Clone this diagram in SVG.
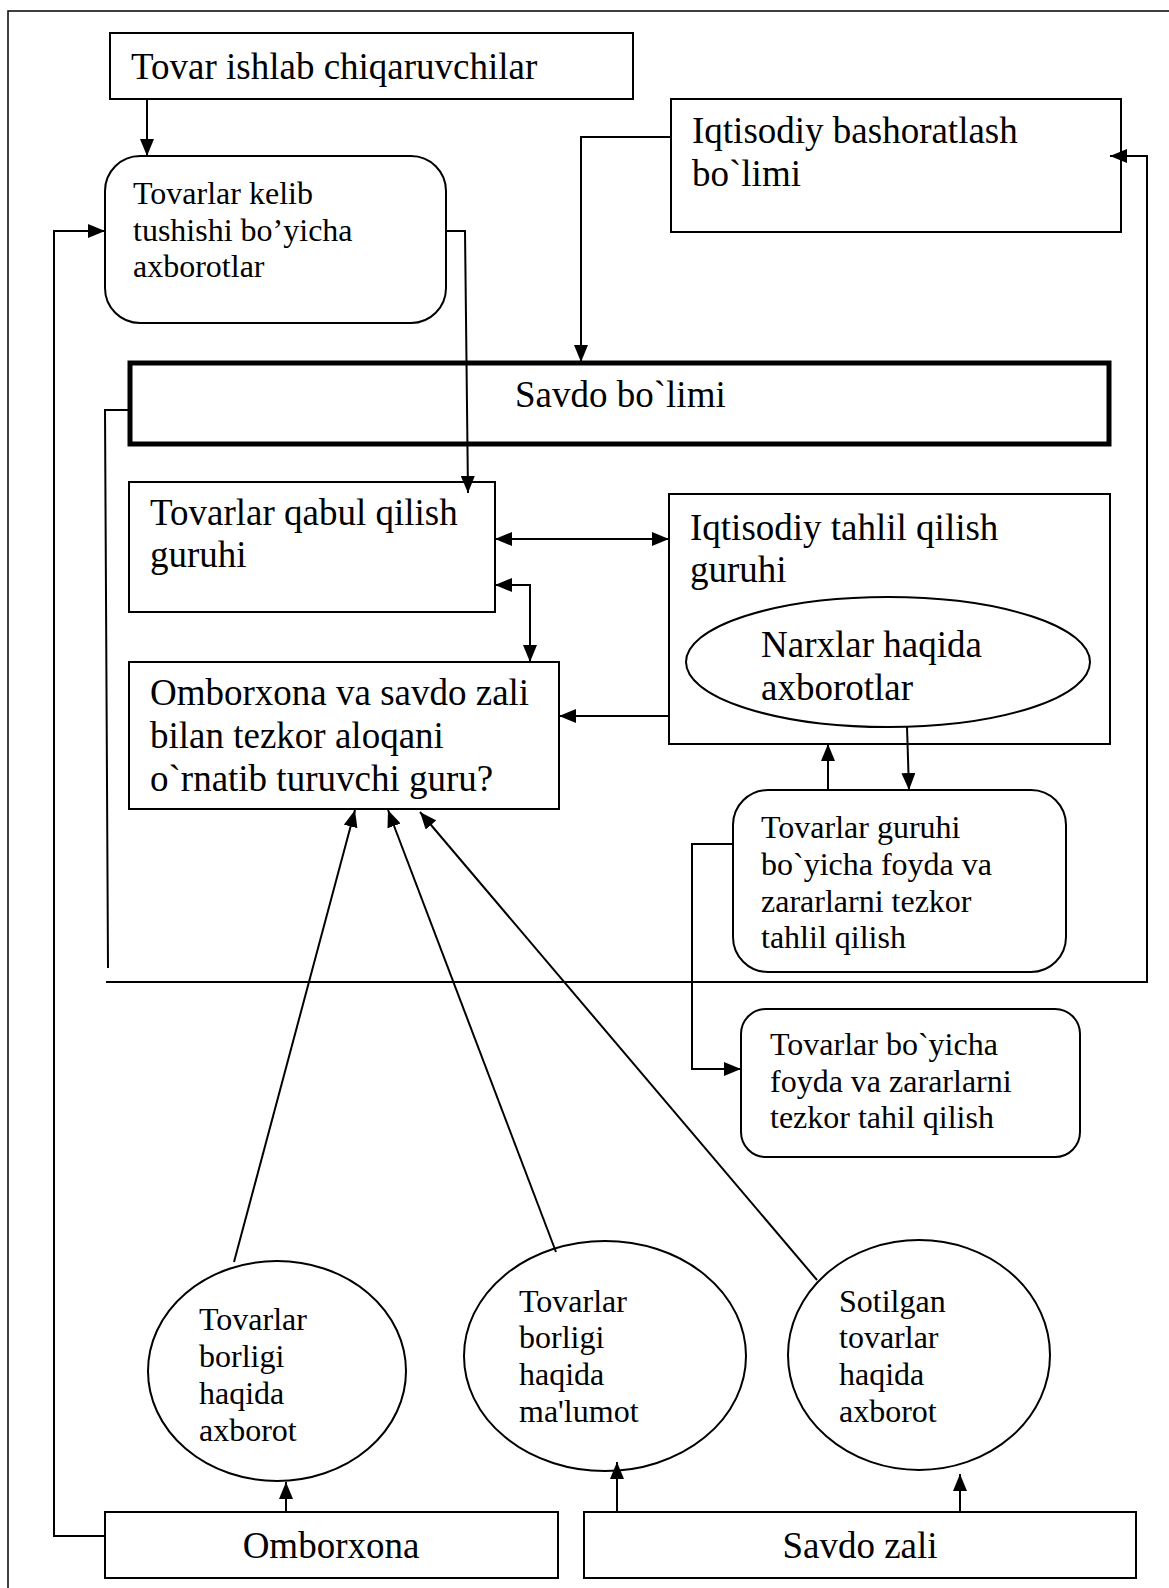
<svg xmlns="http://www.w3.org/2000/svg" width="1169" height="1588" viewBox="0 0 1169 1588">
<style>
text{font-family:"Liberation Serif","Times New Roman",serif;fill:#000}
.big{font-size:37px}
.sm{font-size:32px}
.box{fill:#fff;stroke:#000;stroke-width:2}
.thick{fill:#fff;stroke:#000;stroke-width:5}
.c{fill:none;stroke:#000;stroke-width:2}
.ca{fill:none;stroke:#000;stroke-width:2;marker-end:url(#ah)}
.cb{fill:none;stroke:#000;stroke-width:2;marker-end:url(#ah);marker-start:url(#ah)}
</style>
<defs>
<marker id="ah" viewBox="0 0 17 14" refX="17" refY="7" markerWidth="17" markerHeight="14" markerUnits="userSpaceOnUse" orient="auto-start-reverse">
<path d="M0,0 L17,7 L0,14 z" fill="#000"/>
</marker>
</defs>
<rect width="1169" height="1588" fill="#fff"/>
<g id="page-border">
<path d="M8,1588 V11 H1169" fill="none" stroke="#000" stroke-width="1.5"/>
</g>
<g id="n-tovar-ishlab">
<rect class="box" x="110" y="33" width="523" height="66"/>
<text class="big" x="131" y="79">Tovar ishlab chiqaruvchilar</text>
</g>
<g id="n-kelib">
<rect class="box" x="105" y="156" width="341" height="167" rx="35" ry="35"/>
<text class="sm" x="133" y="204">Tovarlar kelib</text>
<text class="sm" x="133" y="241">tushishi bo’yicha</text>
<text class="sm" x="133" y="277">axborotlar</text>
</g>
<g id="n-bashorat">
<rect class="box" x="671" y="99" width="450" height="133"/>
<text class="big" x="692" y="143">Iqtisodiy bashoratlash</text>
<text class="big" x="692" y="186">bo`limi</text>
</g>
<g id="n-savdo-bolimi">
<rect class="thick" x="130" y="363" width="979" height="81"/>
<text class="big" x="515" y="407">Savdo bo`limi</text>
</g>
<g id="n-qabul">
<rect class="box" x="129" y="482" width="366" height="130"/>
<text class="big" x="150" y="525">Tovarlar qabul qilish</text>
<text class="big" x="150" y="567">guruhi</text>
</g>
<g id="n-tezkor">
<rect class="box" x="129" y="662" width="430" height="147"/>
<text class="big" x="150" y="705">Omborxona va savdo zali</text>
<text class="big" x="150" y="748">bilan tezkor aloqani</text>
<text class="big" x="150" y="791">o`rnatib turuvchi guru?</text>
</g>
<g id="n-tahlil">
<rect class="box" x="669" y="494" width="441" height="250"/>
<text class="big" x="690" y="540">Iqtisodiy tahlil qilish</text>
<text class="big" x="690" y="582">guruhi</text>
</g>
<g id="n-narxlar">
<ellipse class="box" cx="888" cy="662" rx="202" ry="65"/>
<text class="big" x="761" y="657">Narxlar haqida</text>
<text class="big" x="761" y="700">axborotlar</text>
</g>
<g id="n-guruh-foyda">
<rect class="box" x="733" y="790" width="333" height="182" rx="35" ry="35"/>
<text class="sm" x="761" y="838">Tovarlar guruhi</text>
<text class="sm" x="761" y="875">bo`yicha foyda va</text>
<text class="sm" x="761" y="912">zararlarni tezkor</text>
<text class="sm" x="761" y="948">tahlil qilish</text>
</g>
<g id="n-tovar-foyda">
<rect class="box" x="741" y="1009" width="339" height="148" rx="25" ry="25"/>
<text class="sm" x="770" y="1055">Tovarlar bo`yicha</text>
<text class="sm" x="770" y="1092">foyda va zararlarni</text>
<text class="sm" x="770" y="1128">tezkor tahil qilish</text>
</g>
<g id="n-e1">
<ellipse class="box" cx="277" cy="1371" rx="129" ry="110"/>
<text class="sm" x="199" y="1330">Tovarlar</text>
<text class="sm" x="199" y="1367">borligi</text>
<text class="sm" x="199" y="1404">haqida</text>
<text class="sm" x="199" y="1441">axborot</text>
</g>
<g id="n-e2">
<ellipse class="box" cx="605" cy="1356" rx="141" ry="115"/>
<text class="sm" x="519" y="1312">Tovarlar</text>
<text class="sm" x="519" y="1348">borligi</text>
<text class="sm" x="519" y="1385">haqida</text>
<text class="sm" x="519" y="1422">ma'lumot</text>
</g>
<g id="n-e3">
<ellipse class="box" cx="919" cy="1355" rx="131" ry="115"/>
<text class="sm" x="839" y="1312">Sotilgan</text>
<text class="sm" x="839" y="1348">tovarlar</text>
<text class="sm" x="839" y="1385">haqida</text>
<text class="sm" x="839" y="1422">axborot</text>
</g>
<g id="n-omborxona">
<rect class="box" x="105" y="1512" width="453" height="66"/>
<text class="big" x="331" y="1558" text-anchor="middle">Omborxona</text>
</g>
<g id="n-savdo-zali">
<rect class="box" x="584" y="1512" width="552" height="66"/>
<text class="big" x="860" y="1558" text-anchor="middle">Savdo zali</text>
</g>
<g id="connectors">
<path class="ca" d="M147,99 V156"/>
<path class="ca" d="M105,1536 H54 V231 H105"/>
<path class="ca" d="M446,231 H465 L468,493"/>
<path class="ca" d="M671,137 H581 V362"/>
<path class="ca" d="M106,982 H1147 V156 H1110"/>
<path class="c" d="M130,410 H105 L108,968"/>
<path class="cb" d="M495,539 H669"/>
<path class="cb" d="M495,585 H530 V662"/>
<path class="ca" d="M669,716 H559"/>
<path class="ca" d="M907,727 L909,790"/>
<path class="ca" d="M828,790 V744"/>
<path class="ca" d="M733,844 H692 V1069 H741"/>
<path class="ca" d="M234,1262 L355,810"/>
<path class="ca" d="M556,1252 L388,810"/>
<path class="ca" d="M817,1280 L420,812"/>
<path class="ca" d="M286,1512 V1482"/>
<path class="ca" d="M617,1512 V1462"/>
<path class="ca" d="M960,1512 V1474"/>
</g>
</svg>
